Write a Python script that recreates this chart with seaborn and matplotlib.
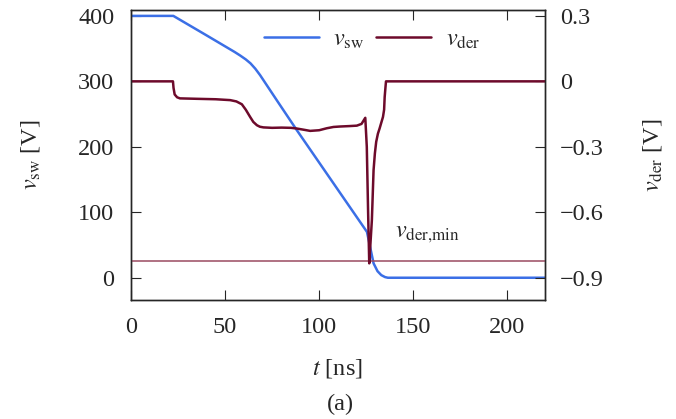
import numpy as np
import pandas as pd
import seaborn as sns
import matplotlib.pyplot as plt

# switch node voltage v_sw [V] (left axis)
t_sw = [0, 22.5, 40, 50, 55, 58, 61, 63.5, 66, 68.6, 77.5, 88.1, 125.4, 127,
        128.9, 131, 133, 135, 136.5, 220]
v_sw = [400, 400, 370.5, 353.5, 345, 339.5, 333.5, 327.5, 319.5, 309.5, 271, 225.5, 70, 48,
        22, 10, 4, 1, 0, 0]

# derivative signal v_der [V] (right axis)
t_der = [0, 22.3, 22.6, 23.2, 24.5, 26, 35, 45, 52.7, 56, 58.9, 61, 63.3, 65, 66.9,
         68.5, 70.4, 75, 80, 85, 88, 92, 95.2, 100, 104, 107.6, 111, 116, 120, 122.5,
         124.5, 125.3, 126, 126.6, 127.2, 128, 128.9, 129.6, 130.3, 131.2, 132.1,
         133.9, 134.5, 134.8, 135.2, 135.5, 220]
v_der = [0, 0, -0.03, -0.06, -0.073, -0.078, -0.080, -0.082, -0.086, -0.092, -0.105,
         -0.13, -0.163, -0.186, -0.201, -0.208, -0.211, -0.213, -0.212, -0.213, -0.216,
         -0.222, -0.227, -0.224, -0.215, -0.209, -0.207, -0.205, -0.203, -0.195,
         -0.167, -0.30, -0.6, -0.834, -0.75, -0.636, -0.407, -0.33, -0.277, -0.24,
         -0.216, -0.163, -0.13, -0.072, -0.03, 0, 0]

v_der_min = -0.825

left_ticks = [0, 100, 200, 300, 400]
right_ticks = [-0.9, -0.6, -0.3, 0, 0.3]
right_labels = ['\u22120.9', '\u22120.6', '\u22120.3', '0', '0.3']
x_ticks = [0, 50, 100, 150, 200]

blue = '#3b6fe6'
maroon = '#6d0a2b'
fs = 17.5

sns.set_theme(style="ticks")
plt.rcParams['font.family'] = ['Liberation Serif', 'DejaVu Serif']
plt.rcParams['mathtext.fontset'] = 'stix'
plt.rcParams['font.size'] = fs
plt.rcParams['axes.linewidth'] = 1.0

fig = plt.figure(figsize=(6.76, 4.19), dpi=100)
ax = fig.add_axes([131/676, 1 - 300/419, 414/676, 290/419])
ax2 = ax.twinx()

df_sw = pd.DataFrame(dict(t=t_sw, v=v_sw))
df_der = pd.DataFrame(dict(t=t_der, v=v_der))

sns.lineplot(data=df_sw, x='t', y='v', ax=ax, color=blue, lw=1.8, sort=False,
             estimator=None, label=r'$v_{\mathrm{sw}}$', legend=False)
sns.lineplot(data=df_der, x='t', y='v', ax=ax2, color=maroon, lw=1.8, sort=False,
             estimator=None, label=r'$v_{\mathrm{der}}$', legend=False)
ax2.axhline(v_der_min, color='#9a4a60', lw=1.1, zorder=1)
ax2.text(140.3, -0.70, r'$v_{\mathrm{der{,}min}}$', fontsize=fs, va='center', ha='left')

ax.set_xlim(0, 220)
ax.set_ylim(-34, 409)
ax2.set_ylim((-34 - 300) * 0.003, (409 - 300) * 0.003)

ax.set_xticks(x_ticks)
ax.set_yticks(left_ticks)
ax2.set_yticks(right_ticks)
ax2.set_yticklabels(right_labels)

ax.tick_params(axis='x', direction='in', top=True, length=7, width=0.8, labelsize=fs, pad=12)
ax.tick_params(axis='y', direction='in', right=False, length=7, width=0.8, labelsize=fs, pad=12)
ax2.tick_params(axis='y', direction='in', length=7, width=0.8, labelsize=fs, pad=11)

ax.set_xlabel(r'$t$ [ns]', fontsize=fs)
ax.xaxis.set_label_coords((337 - 131) / 414, (300 - 368) / 290)
ax.xaxis.label.set_va('center')
ax.set_ylabel(r'$v_{\mathrm{sw}}$ [V]', fontsize=fs)
ax.yaxis.set_label_coords((31 - 131) / 414, 0.5)
ax.yaxis.label.set_va('center')
ax2.set_ylabel(r'$v_{\mathrm{der}}$ [V]', fontsize=fs)
ax2.yaxis.set_label_coords((652 - 131) / 414, 0.5)
ax2.yaxis.label.set_va('center')

h1, l1 = ax.get_legend_handles_labels()
h2, l2 = ax2.get_legend_handles_labels()
ax2.legend(h1 + h2, l1 + l2, ncol=2, frameon=False, loc='center',
           bbox_to_anchor=((372 - 131) / 414, (300 - 40) / 290), fontsize=fs,
           handlelength=2.25, handletextpad=0.6, columnspacing=0.5)

fig.text(340 / 676, 1 - 404 / 419, '(a)', ha='center', va='center', fontsize=fs)

fig.savefig('out.png', dpi=100)
